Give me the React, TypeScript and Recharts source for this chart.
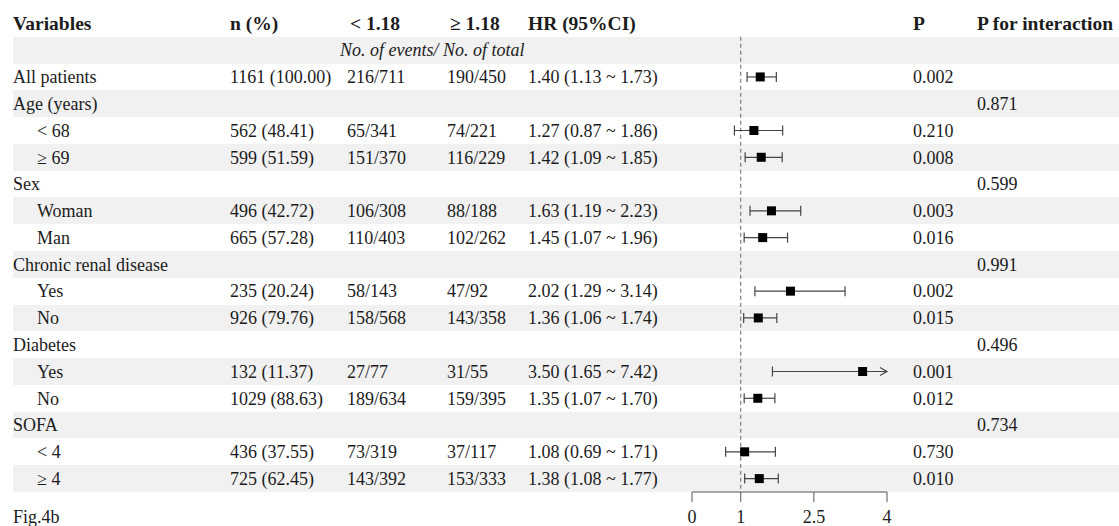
import { ErrorBar, ReferenceLine, Scatter, ScatterChart, XAxis, YAxis } from "recharts";

const W = 1119;
const H = 526;
const TOP = 10;
const AXIS_H = 34;
const LEFT = 13;
const PLOT_LEFT = 692;
const PLOT_RIGHT = 887;
const ROWS = 18; // header + subtitle + 16 data rows
const ROW_H = (H - TOP - AXIS_H) / ROWS;
const X_MAX = 4;

const FONT = "'Liberation Serif', 'Times New Roman', serif";
const INK = "#1c1c1c";
const SHADE = "#f1f1f1";

const LABELS = [
  "All patients", "Age (years)", "< 68", "≥ 69", "Sex", "Woman", "Man",
  "Chronic renal disease", "Yes", "No", "Diabetes", "Yes", "No", "SOFA", "< 4", "≥ 4",
];
const INDENT = [false, false, true, true, false, true, true, false, true, true, false, true, true, false, true, true];
const N_PCT = [
  "1161 (100.00)", "", "562 (48.41)", "599 (51.59)", "", "496 (42.72)", "665 (57.28)",
  "", "235 (20.24)", "926 (79.76)", "", "132 (11.37)", "1029 (88.63)", "", "436 (37.55)", "725 (62.45)",
];
const LOW_GROUP = [
  "216/711", "", "65/341", "151/370", "", "106/308", "110/403",
  "", "58/143", "158/568", "", "27/77", "189/634", "", "73/319", "143/392",
];
const HIGH_GROUP = [
  "190/450", "", "74/221", "116/229", "", "88/188", "102/262",
  "", "47/92", "143/358", "", "31/55", "159/395", "", "37/117", "153/333",
];
const HR = [1.4, null, 1.27, 1.42, null, 1.63, 1.45, null, 2.02, 1.36, null, 3.5, 1.35, null, 1.08, 1.38];
const CI_LO = [1.13, null, 0.87, 1.09, null, 1.19, 1.07, null, 1.29, 1.06, null, 1.65, 1.07, null, 0.69, 1.08];
const CI_HI = [1.73, null, 1.86, 1.85, null, 2.23, 1.96, null, 3.14, 1.74, null, 7.42, 1.7, null, 1.71, 1.77];
const P_VAL = [
  "0.002", "", "0.210", "0.008", "", "0.003", "0.016",
  "", "0.002", "0.015", "", "0.001", "0.012", "", "0.730", "0.010",
];
const P_INT = ["", "0.871", "", "", "0.599", "", "", "0.991", "", "", "0.496", "", "", "0.734", "", ""];
const X_TICKS = [0, 1, 2.5, 4];

// column x positions of the table
const COL = { label: LEFT, indent: 37, n: 230, lo: 347, hi: 447, hr: 528, p: 913, pint: 977 };

// data rows start at row index 2 (0 = header, 1 = "No. of events" line)
const rowOf = (i: number) => i + 2;

const points = HR.map((hr, i) =>
  hr == null
    ? null
    : {
        x: hr,
        y: rowOf(i),
        err: [hr - (CI_LO[i] as number), Math.min(CI_HI[i] as number, X_MAX) - hr],
      },
).filter(Boolean);

const lowCaps = CI_LO.map((v, i) => (v == null ? null : { x: v, y: rowOf(i) })).filter(Boolean);
const highCaps = CI_HI.map((v, i) =>
  v == null ? null : { x: Math.min(v, X_MAX), y: rowOf(i), arrow: v > X_MAX },
).filter(Boolean);

function RowTick(props: any) {
  const { y, payload } = props;
  const row = payload.value as number;
  const t = (x: number, s: string, extra: any = {}) =>
    s ? (
      <text x={x} y={y} dy="0.35em" fontSize={18} fill={INK} {...extra}>
        {s}
      </text>
    ) : null;

  if (row === 0) {
    const b = { fontWeight: "bold", fontSize: 19.5 };
    return (
      <g>
        {t(COL.label, "Variables", b)}
        {t(COL.n, "n (%)", b)}
        {t(350, "< 1.18", b)}
        {t(450, "≥ 1.18", b)}
        {t(COL.hr, "HR (95%CI)", b)}
        {t(COL.p, "P", b)}
        {t(COL.pint, "P for interaction", b)}
      </g>
    );
  }
  if (row === 1) {
    return <g>{t(340, "No. of events/ No. of total", { fontStyle: "italic" })}</g>;
  }
  const i = row - 2;
  const hr = HR[i];
  const hrText = hr == null ? "" : `${hr.toFixed(2)} (${(CI_LO[i] as number).toFixed(2)} ~ ${(CI_HI[i] as number).toFixed(2)})`;
  return (
    <g>
      {t(INDENT[i] ? COL.indent : COL.label, LABELS[i])}
      {t(COL.n, N_PCT[i])}
      {t(COL.lo, LOW_GROUP[i])}
      {t(COL.hi, HIGH_GROUP[i])}
      {t(COL.hr, hrText)}
      {t(COL.p, P_VAL[i])}
      {t(COL.pint, P_INT[i])}
    </g>
  );
}

const Box = (p: any) => <rect x={p.cx - 4.5} y={p.cy - 4.5} width={9} height={9} fill="#000" />;
const Cap = (p: any) => <line x1={p.cx} x2={p.cx} y1={p.cy - 5} y2={p.cy + 5} stroke="#444" strokeWidth={1.2} />;
const CapOrArrow = (p: any) =>
  p.payload.arrow ? (
    <path d={`M${p.cx - 7},${p.cy - 4} L${p.cx},${p.cy} L${p.cx - 7},${p.cy + 4}`} fill="none" stroke="#444" strokeWidth={1.2} />
  ) : (
    <Cap {...p} />
  );

// alternating row shading, laid under the transparent chart svg
const shadedRows = Array.from({ length: ROWS }, (_, k) => k).filter((k) => k % 2 === 1);

export default function App() {
  return (
    <div style={{ position: "absolute", left: 0, top: 0, width: W, height: H, fontFamily: FONT, background: "#fff" }}>
      {shadedRows.map((k) => (
        <div
          key={k}
          style={{
            position: "absolute",
            left: LEFT,
            top: TOP + k * ROW_H,
            width: W - LEFT,
            height: ROW_H,
            background: SHADE,
          }}
        />
      ))}
      <div style={{ position: "absolute", left: 0, top: 0 }}>
        <ScatterChart
          width={W}
          height={H}
          margin={{ top: TOP, right: W - PLOT_RIGHT, bottom: 0, left: LEFT }}
        >
          <YAxis
            type="number"
            dataKey="y"
            domain={[-0.5, ROWS - 0.5]}
            reversed
            ticks={Array.from({ length: ROWS }, (_, k) => k)}
            interval={0}
            width={PLOT_LEFT - LEFT}
            axisLine={false}
            tickLine={false}
            tick={(p: any) => <RowTick {...p} />}
          />
          <XAxis
            type="number"
            dataKey="x"
            domain={[0, X_MAX]}
            ticks={X_TICKS}
            height={AXIS_H}
            tickSize={10}
            tickMargin={8}
            axisLine={{ stroke: "#555" }}
            tickLine={{ stroke: "#555" }}
            tick={{ fontSize: 18, fill: INK }}
          />
          <ReferenceLine
            segment={[{ x: 1, y: 0.5 }, { x: 1, y: ROWS - 0.5 }]}
            stroke="#666"
            strokeDasharray="4 3"
          />
          <Scatter data={lowCaps} shape={Cap} isAnimationActive={false} />
          <Scatter data={highCaps} shape={CapOrArrow} isAnimationActive={false} />
          <Scatter data={points} shape={Box} isAnimationActive={false}>
            <ErrorBar dataKey="err" direction="x" width={0} stroke="#444" strokeWidth={1.2} />
          </Scatter>
        </ScatterChart>
      </div>
      <div style={{ position: "absolute", left: LEFT, top: 507, fontSize: 18, color: INK, lineHeight: "20px" }}>
        Fig.4b
      </div>
    </div>
  );
}
